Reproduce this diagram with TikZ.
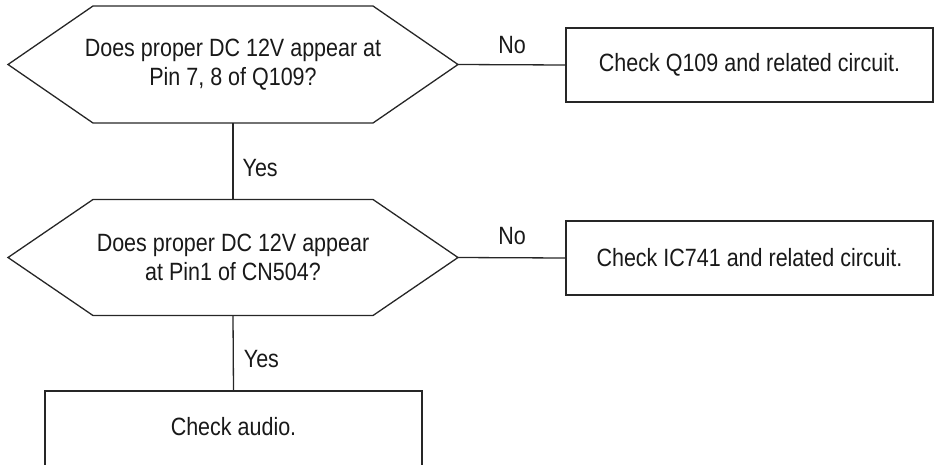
\documentclass[tikz,border=0pt]{standalone}
\usepackage{fontspec}
\setmainfont{Liberation Sans}[FakeStretch=0.86]
\usetikzlibrary{calc}
\tikzset{
  ln/.style={line width=1.3pt, draw=black!85},
  txt/.style={font=\fontsize{25}{29.5}\selectfont, text=black!90},
  hexnode/.style={txt, align=center, minimum width=450pt, minimum height=117pt, inner sep=0pt, outer sep=0pt},
  boxnode/.style={txt, ln, rectangle, minimum width=367pt, minimum height=74pt, inner sep=0pt, outer sep=0pt},
  lbl/.style={txt, inner sep=0pt}
}
\begin{document}
\begin{tikzpicture}[x=1pt,y=-1pt]
\clip (0,0) rectangle (935,464);
% decision nodes
\node[hexnode] (q1) at (233,64.5) {Does proper DC 12V appear at\\Pin 7, 8 of Q109?};
\node[hexnode, minimum height=116pt] (q2) at (233,257.5) {Does proper DC 12V appear\\at Pin1 of CN504?};
% hexagon outlines
\draw[ln, line join=miter] (q1.west) -- ([xshift=85pt]q1.north west) -- ([xshift=-85pt]q1.north east) -- (q1.east)
  -- ([xshift=-85pt]q1.south east) -- ([xshift=85pt]q1.south west) -- cycle;
\draw[ln, line join=miter] (q2.west) -- ([xshift=85pt]q2.north west) -- ([xshift=-85pt]q2.north east) -- (q2.east)
  -- ([xshift=-85pt]q2.south east) -- ([xshift=85pt]q2.south west) -- cycle;
% action boxes
\node[boxnode] (r1) at (749.5,65) {Check Q109 and related circuit.};
\node[boxnode] (r2) at (749.5,258) {Check IC741 and related circuit.};
\node[boxnode, minimum width=377pt, minimum height=80pt, text depth=10pt] (r3) at (233.5,431) {Check audio.};
% connectors
\draw[ln] (q1.east) -- node[lbl, anchor=base, yshift=11pt] (no1) {No} (r1.west);
\draw[ln] (q2.east) -- node[lbl, anchor=base, yshift=13pt] (no2) {No} (r2.west);
\draw[ln] (q1.south) -- node[lbl, anchor=base west, xshift=9pt, yshift=-15pt] (yes1) {Yes} (q2.north);
\draw[ln] (q2.south) -- node[lbl, anchor=base west, xshift=10pt, yshift=-14pt] (yes2) {Yes} (r3.north);
\end{tikzpicture}
\end{document}
